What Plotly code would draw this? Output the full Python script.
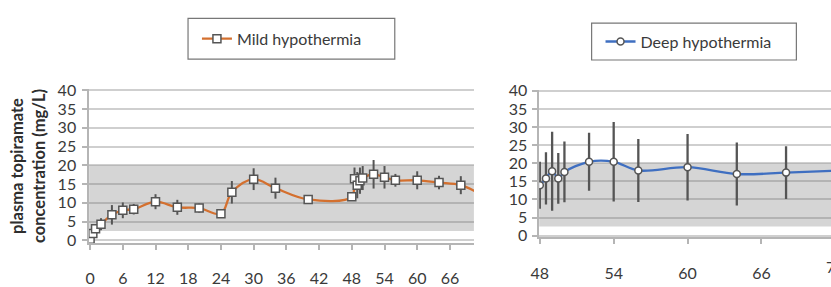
import plotly.graph_objects as go

# ---------------- data ----------------
mild_time = [0, 0.5, 1, 2, 4, 6, 8, 12, 16, 20, 24, 26, 30, 34, 40,
             48, 48.5, 49, 49.5, 50, 52, 54, 56, 60, 64, 68, 72]
mild_conc = [0.3, 1.8, 3.1, 4.3, 6.8, 8.0, 8.3, 10.3, 8.8, 8.6, 7.1, 12.8, 16.3, 13.9, 10.9,
             11.6, 16.4, 14.7, 15.9, 16.6, 17.6, 16.8, 16.0, 16.0, 15.4, 14.7, 12.0]
mild_sd = [0.6, 1.0, 1.2, 1.6, 2.6, 2.1, 1.4, 2.0, 2.0, 1.2, 1.0, 3.0, 2.9, 2.8, 1.0,
           0.8, 3.0, 3.5, 3.5, 3.2, 3.8, 3.0, 1.7, 2.4, 1.8, 2.4, 0]

deep_time = [48, 48.5, 49, 49.5, 50, 52, 54, 56, 60, 64, 68, 72]
deep_conc = [13.9, 15.8, 17.8, 15.8, 17.6, 20.4, 20.4, 18.0, 18.9, 17.0, 17.4, 17.9]
deep_sd = [6.5, 7.2, 10.9, 7.0, 8.4, 8.0, 11.0, 8.7, 9.2, 8.7, 7.3, 0]

left_ticks = [0, 6, 12, 18, 24, 30, 36, 42, 48, 54, 60, 66]
right_ticks = [48, 54, 60, 66]
y_ticks = [0, 5, 10, 15, 20, 25, 30, 35, 40]
band_range = [2.5, 20]

left_xrange = [-0.18, 70.4]
right_xrange = [47.95, 71.65]
left_yrange = [-0.7, 40.3]
right_yrange = [-0.5, 40.3]

# ---------------- geometry helpers ----------------
W, H = 831, 287
def px(x):
    return x / W
def py(y):
    return 1 - y / H

FONT = "Lato, 'Open Sans', sans-serif"
TXT = "#3a3a3a"
ORANGE = "#d4702f"
BLUE = "#3f6fc1"

fig = go.Figure()

fig.add_trace(go.Scatter(
    x=mild_time, y=mild_conc, name="Mild hypothermia",
    mode="lines+markers",
    line=dict(color=ORANGE, width=2.3, shape="spline", smoothing=1.0),
    marker=dict(symbol="square", size=8, color="white", line=dict(color="#555", width=1.5)),
    error_y=dict(type="data", array=mild_sd, visible=True, color="#555", thickness=2, width=0),
    xaxis="x", yaxis="y", legend="legend",
))

fig.add_trace(go.Scatter(
    x=deep_time, y=deep_conc, name="Deep hypothermia",
    mode="lines+markers",
    line=dict(color=BLUE, width=2.3, shape="spline", smoothing=1.0),
    marker=dict(symbol="circle", size=7, color="white", line=dict(color="#555", width=1.5)),
    error_y=dict(type="data", array=deep_sd, visible=True, color="#555", thickness=2.3, width=0),
    xaxis="x2", yaxis="y2", legend="legend2",
))

axis_common = dict(
    showline=True, linecolor="#b5b5b5", linewidth=1.5,
    ticks="outside", tickcolor="#b5b5b5", ticklen=5, tickwidth=1.5,
    tickfont=dict(family=FONT, size=16, color=TXT),
    zeroline=False,
)

grid = dict(showgrid=True, gridcolor="rgba(110,110,110,0.33)", gridwidth=2)

fig.update_layout(
    width=W, height=H, autosize=False,
    margin=dict(l=0, r=0, t=0, b=0),
    paper_bgcolor="white", plot_bgcolor="white",
    font=dict(family=FONT, color=TXT),
    xaxis=dict(domain=[px(81), px(470)], range=left_xrange, tickvals=left_ticks,
               showgrid=False, anchor="y", ticklabelstandoff=15, **axis_common),
    yaxis=dict(domain=[py(247.8), py(84.8)], range=left_yrange, tickvals=y_ticks,
               anchor="x", ticklabelstandoff=3, **grid, **axis_common,
               title=dict(text="plasma topiramate<br>concentration (mg/L)",
                          font=dict(family=FONT, size=16.5, color="#2e2e2e", weight="bold"),
                          standoff=8)),
    xaxis2=dict(domain=[px(536), 1.0], range=right_xrange, tickvals=right_ticks,
                showgrid=False, anchor="y2", ticklabelstandoff=16, **axis_common),
    yaxis2=dict(domain=[py(241.9), py(85.5)], range=right_yrange, tickvals=y_ticks,
                anchor="x2", ticklabelstandoff=2, **grid, **axis_common),
    legend=dict(x=px(190), y=py(31.5), xanchor="left", yanchor="middle",
                bgcolor="rgba(0,0,0,0)", borderwidth=0,
                font=dict(family=FONT, size=16, color=TXT)),
    legend2=dict(x=px(598), y=py(34.5), xanchor="left", yanchor="middle",
                 bgcolor="rgba(0,0,0,0)", borderwidth=0,
                 font=dict(family=FONT, size=16, color=TXT)),
    showlegend=True,
)

# therapeutic band
for xr, yr in (("x", "y"), ("x2", "y2")):
    fig.add_shape(type="rect", xref=f"{xr} domain", yref=yr, x0=0, x1=1,
                  y0=band_range[0], y1=band_range[1],
                  fillcolor="#d5d5d5", line=dict(width=0), layer="below")

# legend boxes
fig.add_shape(type="rect", xref="paper", yref="paper",
              x0=px(181), x1=px(390), y0=py(53), y1=py(10),
              line=dict(color="#777", width=1.2), fillcolor="rgba(0,0,0,0)")
fig.add_shape(type="rect", xref="paper", yref="paper",
              x0=px(589), x1=px(796), y0=py(54), y1=py(15),
              line=dict(color="#777", width=1.2), fillcolor="rgba(0,0,0,0)")

# partially visible "72" tick label at right edge of second chart
d0, d1 = px(536), 1.0
t72 = 72
xpos = d0 + (t72 - right_xrange[0]) / (right_xrange[1] - right_xrange[0]) * (d1 - d0)
fig.add_annotation(x=xpos, y=py(273), xref="paper", yref="paper", text=str(t72),
                   showarrow=False, xanchor="center", yanchor="middle",
                   font=dict(family=FONT, size=16, color=TXT))

fig.write_html("out.html", config={"displayModeBar": False},
               post_script="document.body.style.margin='0';document.body.style.overflow='hidden';")
